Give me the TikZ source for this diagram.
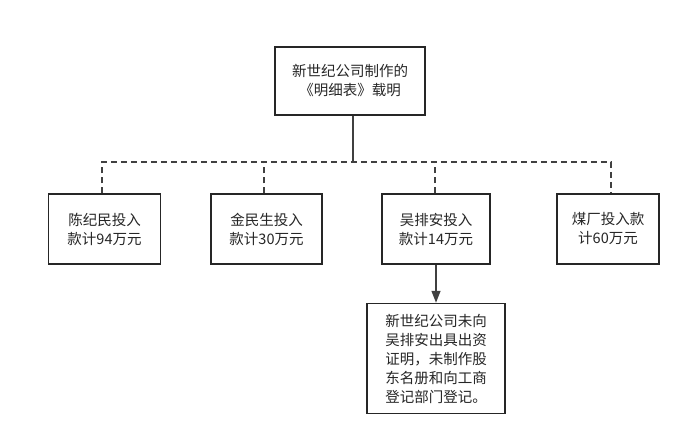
\documentclass[tikz,border=0pt]{standalone}
\usepackage{fontspec}
\newfontfamily\cjk{Noto Sans CJK SC}
\usetikzlibrary{arrows.meta}
\begin{document}
\begin{tikzpicture}[x=1pt,y=-1pt,
  bx/.style={draw=black!85,line width=1.5pt,fill=white,align=center,inner sep=0pt,font=\cjk\fontsize{14.5}{19}\selectfont,text=black!85},
  ln/.style={draw=black!75,line width=1.4pt},
  dsh/.style={ln,dash pattern=on 6pt off 4pt}]
\useasboundingbox (0,0) rectangle (682,447);
\node[bx,minimum width=150,minimum height=68] (top) at (350,81) {新世纪公司制作的\\《明细表》载明};
\node[bx,minimum width=112,minimum height=70] (a) at (104.5,229) {陈纪民投入\\款计94万元};
\node[bx,minimum width=111,minimum height=70] (b) at (266.5,229) {金民生投入\\款计30万元};
\node[bx,minimum width=108,minimum height=70] (c) at (436,229) {吴排安投入\\款计14万元};
\node[bx,minimum width=102,minimum height=70] (d) at (608,229) {煤厂投入款\\计60万元};
\node[bx,minimum width=138,minimum height=110,align=left] (e) at (436,358.5) {新世纪公司未向\\吴排安出具出资\\证明，未制作股\\东名册和向工商\\登记部门登记。};
\coordinate (j) at (353,162);
\draw[ln,line width=2pt] (top.south -| j) -- (j);
\draw[dsh] (a.north -| 102,0) |- (j) -| (d.north -| 611,0);
\draw[dsh] (b.north -| 264,0) -- (264,162);
\draw[dsh] (c.north -| 435,0) -- (435,162);
\draw[ln,-{Triangle[length=12pt,width=9pt]}] (c.south) -- (e.north);
\end{tikzpicture}
\end{document}
